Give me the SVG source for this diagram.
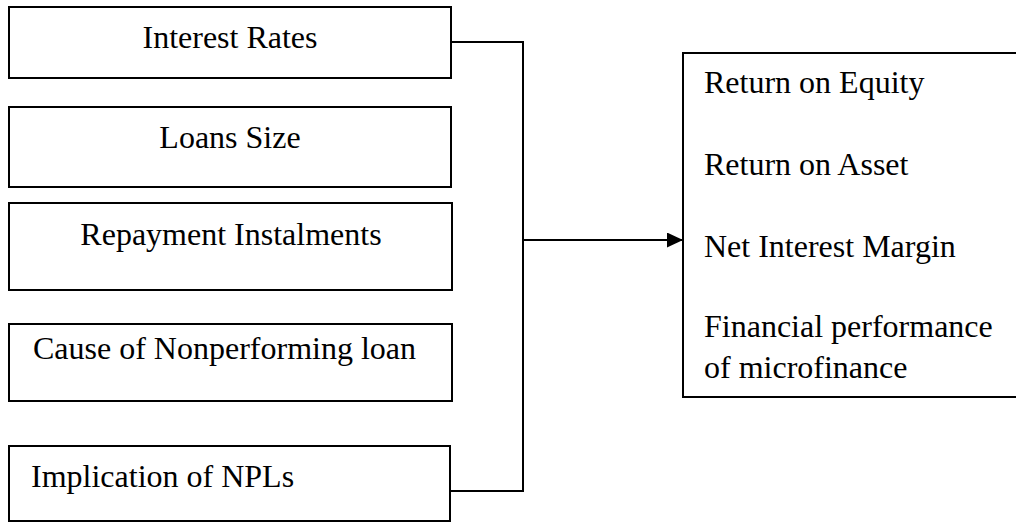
<svg xmlns="http://www.w3.org/2000/svg" width="1016" height="522" viewBox="0 0 1016 522">
  <style>
    .box { fill: #ffffff; stroke: #000000; stroke-width: 2; }
    .t { font-family: "Liberation Serif", "Times New Roman", serif; font-size: 32px; fill: #000000; }
    .c { text-anchor: middle; }
    .conn { fill: none; stroke: #000000; stroke-width: 2; }
  </style>
  <defs>
    <marker id="arrow" markerWidth="16" markerHeight="15" refX="16" refY="7.5" orient="auto" markerUnits="userSpaceOnUse">
      <path d="M0,0 L16,7.5 L0,15 Z" fill="#000000"/>
    </marker>
  </defs>
  <rect width="1016" height="522" fill="#ffffff"/>
  <g id="node-interest-rates">
    <rect class="box" x="9" y="7" width="442" height="71"/>
    <text class="t c" x="230" y="48">Interest Rates</text>
  </g>
  <g id="node-loans-size">
    <rect class="box" x="9" y="107" width="442" height="80"/>
    <text class="t c" x="230" y="148">Loans Size</text>
  </g>
  <g id="node-repayment">
    <rect class="box" x="9" y="203" width="443" height="87"/>
    <text class="t c" x="231" y="245">Repayment Instalments</text>
  </g>
  <g id="node-cause">
    <rect class="box" x="9" y="324" width="443" height="77"/>
    <text class="t" x="33" y="359">Cause of Nonperforming loan</text>
  </g>
  <g id="node-implication">
    <rect class="box" x="9" y="446" width="441" height="75"/>
    <text class="t" x="31" y="487">Implication of NPLs</text>
  </g>
  <g id="node-performance">
    <rect class="box" x="683" y="53" width="340" height="344"/>
    <text class="t" x="704" y="93">Return on Equity</text>
    <text class="t" x="704" y="175">Return on Asset</text>
    <text class="t" x="704" y="257">Net Interest Margin</text>
    <text class="t" x="704" y="337">Financial performance</text>
    <text class="t" x="704" y="378">of microfinance</text>
  </g>
  <g id="connectors">
    <polyline class="conn" points="451,42 523,42 523,491 450,491"/>
    <line class="conn" x1="523" y1="240" x2="683" y2="240" marker-end="url(#arrow)"/>
  </g>
</svg>
